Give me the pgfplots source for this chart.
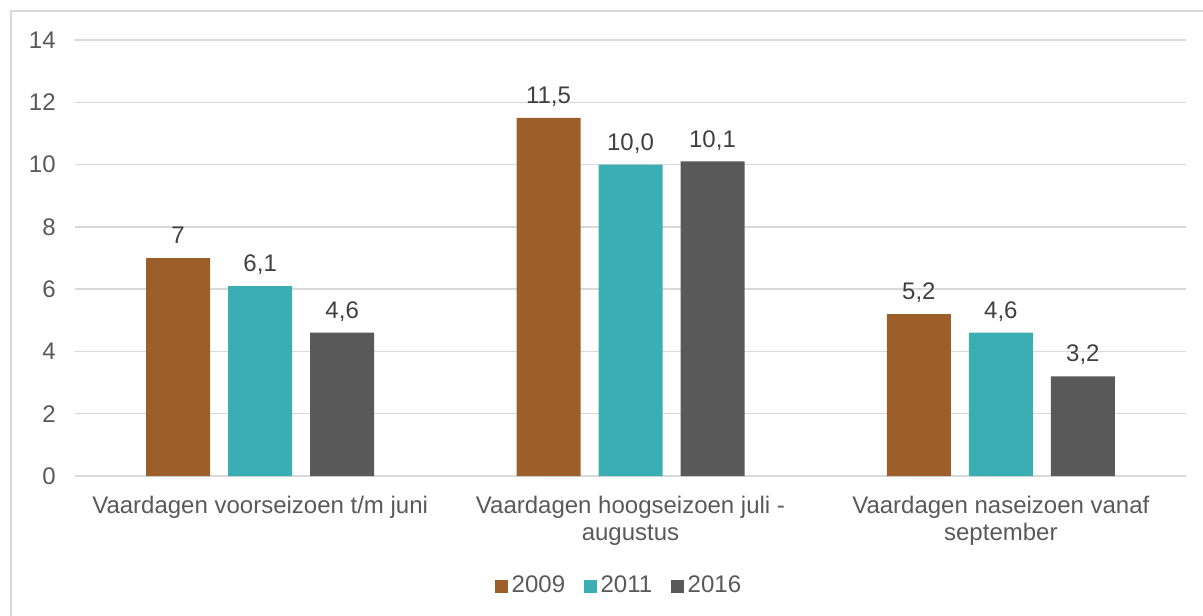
\documentclass[border=0pt]{standalone}
\usepackage{pgfplots}
\pgfplotsset{compat=1.18}
\usepackage{fontspec}
\setmainfont{Liberation Sans}

\definecolor{c2009}{HTML}{9C5F2A}
\definecolor{c2011}{HTML}{3BAEB4}
\definecolor{c2016}{HTML}{595959}
\definecolor{txt}{HTML}{595959}
\definecolor{lbl}{HTML}{404040}
\definecolor{gridc}{HTML}{D9D9D9}

\begin{document}
\begin{tikzpicture}
  \fontsize{12}{13.5}\selectfont
  \begin{axis}[
      at={(0,0)}, anchor=south west,
      scale only axis, width=555.5pt, height=218pt,
      ybar=9pt, bar width=32pt,
      xmin=-0.5, xmax=2.5, ymin=0, ymax=14,
      ytick={0,2,...,14},
      xtick=data,
      xticklabels={Vaardagen voorseizoen t/m juni,
                   {Vaardagen hoogseizoen juli -\\augustus},
                   {Vaardagen naseizoen vanaf\\september}},
      xticklabel style={align=center, text=txt, yshift=-6pt},
      yticklabel style={text=txt, xshift=-5.5pt},
      /pgf/number format/assume math mode=true,
      major tick length=0pt,
      ymajorgrids,
      major grid style={draw=gridc, line width=0.75pt},
      axis x line*=bottom,
      axis y line*=left,
      x axis line style={draw=gridc, line width=0.75pt, -},
      y axis line style={draw=none},
      point meta=explicit symbolic,
      nodes near coords,
      nodes near coords style={text=lbl, text depth=0pt, yshift=3pt},
      legend columns=-1,
      legend style={draw=none, fill=none, text=txt,
        at={(0.4905,-0.2523)}, anchor=center,
        /tikz/every even column/.append style={column sep=7.25pt}},
      legend image code/.code={\path[#1,draw=none] (0pt,-3.25pt) rectangle (6.5pt,3.25pt);},
    ]
    \addplot[draw=none, fill=c2009] coordinates {(0,7) [7] (1,11.5) [{11,5}] (2,5.2) [{5,2}]};
    \addplot[draw=none, fill=c2011] coordinates {(0,6.1) [{6,1}] (1,10.0) [{10,0}] (2,4.6) [{4,6}]};
    \addplot[draw=none, fill=c2016] coordinates {(0,4.6) [{4,6}] (1,10.1) [{10,1}] (2,3.2) [{3,2}]};
    \legend{2009,2011,2016}
  \end{axis}
  \draw[gridc, line width=0.75pt] (-32pt,-90pt) -- (-32pt,232.5pt) -- (600pt,232.5pt);
  \pgfresetboundingbox
  \useasboundingbox (-37.5pt,-69.5pt) rectangle (564pt,238pt);
\end{tikzpicture}
\end{document}
